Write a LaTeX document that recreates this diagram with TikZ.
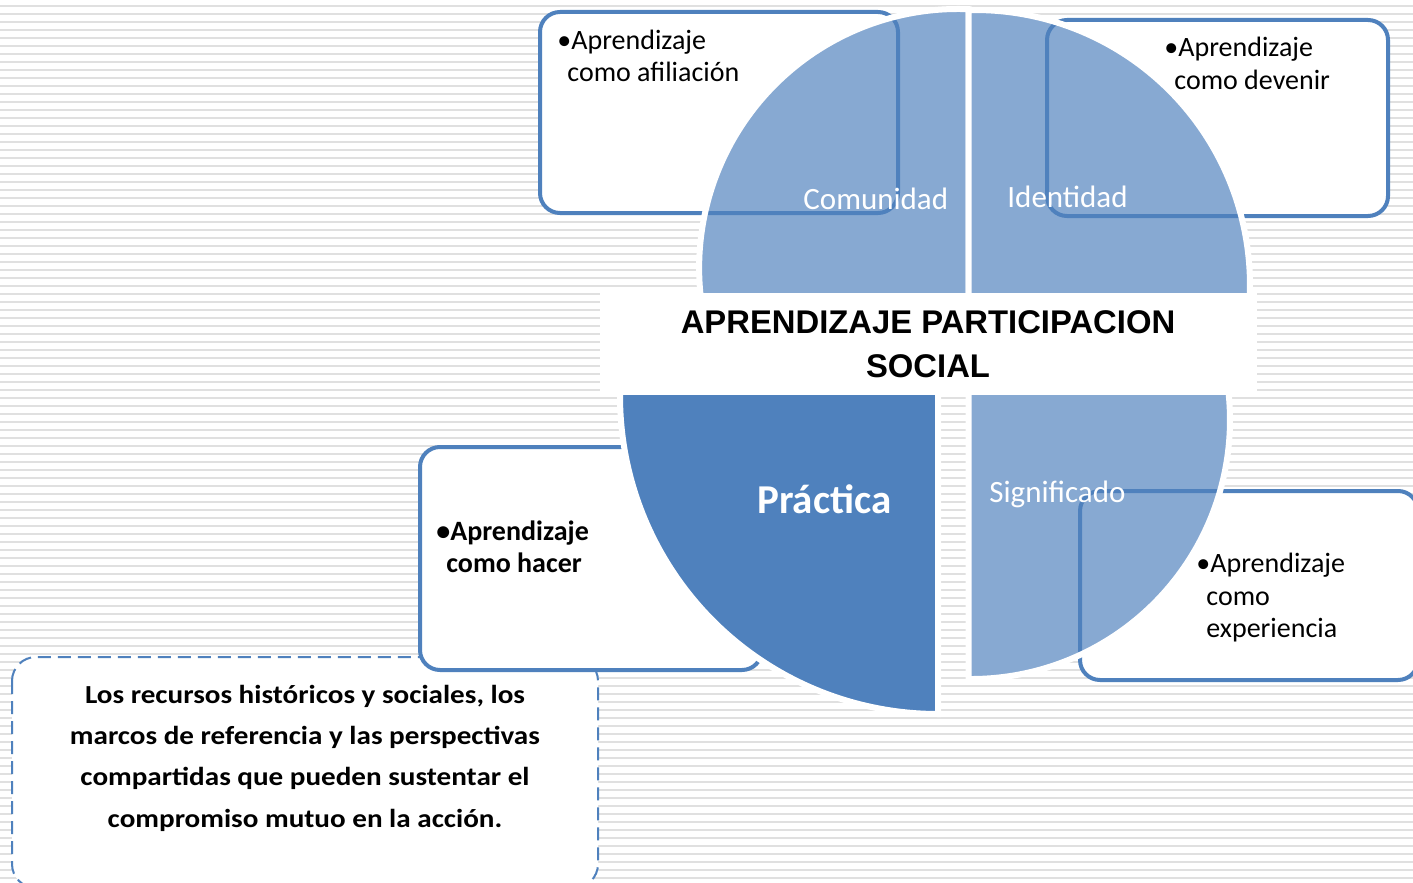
\documentclass[tikz,border=0pt]{standalone}
\usepackage{fontspec}
\setmainfont{Carlito}
\newfontfamily\titlefont{Liberation Sans}
\newfontfamily\notefont[FakeStretch=1.12]{Carlito}
\definecolor{cus-blue}{RGB}{79, 129, 189}
\definecolor{cus-stripe}{RGB}{224, 224, 224}
\tikzset{
	itembox/.style={draw=cus-blue, line width=2pt, fill=white, rounded corners=10pt},
	notebox/.style={draw=cus-blue, line width=1pt, fill=white, rounded corners=12pt, dash pattern=on 6.5pt off 3.5pt},
	wedge/.style={draw=white, line width=3pt, fill=cus-blue},
	lightwedge/.style={wedge, fill opacity=.68},
	item/.style={anchor=base west, inner sep=0pt, font=\fontsize{14}{16}\selectfont},
	itembold/.style={item, font=\fontsize{14}{16}\selectfont\bfseries},
	quadname/.style={anchor=base west, inner sep=0pt, text=white, font=\fontsize{15.5}{18}\selectfont},
	titletext/.style={anchor=base, inner sep=0pt, font=\titlefont\bfseries\fontsize{16.4}{19}\selectfont},
	notetext/.style={anchor=base, inner sep=0pt, font=\notefont\bfseries\fontsize{13}{15}\selectfont}
}
\begin{document}
\begin{tikzpicture}[x=0.5pt, y=-0.5pt]
\useasboundingbox (0 ,0) rectangle (1413 ,883);
\clip (0 ,0) rectangle (1413 ,883);
% striped background
\fill [white] (0 ,0) rectangle (1413 ,883);
\foreach \y in {6,14,...,878}{
	\draw [cus-stripe, line width=1pt] (0 ,\y) -- (1413 ,\y);
}
% dashed note box
\draw [notebox] (12 ,657) rectangle (598 ,888);
% white under the light quarters
\fill [white] (968.5 ,345) -- (968.5 ,9.2) arc[start angle=272.3, end angle=162.7, radius=259] -- cycle;
\fill [white] (968.5 ,345) -- (968.5 ,10.1) arc[start angle=268.65, end angle=372.6, radius=275] -- cycle;
\fill [white] (968.5 ,345) -- (968.5 ,679) arc[start angle=90.55, end angle=-16.8, radius=259] -- cycle;
% item boxes
\draw [itembox] (540 ,12) rectangle (898 ,213);
\draw [itembox] (1047 ,20) rectangle (1388 ,216);
\draw [itembox] (420 ,447) rectangle (762 ,670);
\draw [itembox] (1080 ,491) rectangle (1418 ,680);
% quarters
\draw [lightwedge] (968.5 ,345) -- (968.5 ,9.2) arc[start angle=272.3, end angle=162.7, radius=259] -- cycle;
\draw [lightwedge] (968.5 ,345) -- (968.5 ,10.1) arc[start angle=268.65, end angle=372.6, radius=275] -- cycle;
\draw [lightwedge] (968.5 ,345) -- (968.5 ,679) arc[start angle=90.55, end angle=-16.8, radius=259] -- cycle;
\draw [wedge] (938 ,345) -- (938 ,714) arc[start angle=90, end angle=189.3, radius=318] -- cycle;
% centre band
\fill [white] (600 ,293) rectangle (1257 ,395);

\node [item] (afil-a) at (557 ,50) {\textbullet Aprendizaje};
\node [item] (afil-b) at (567 ,82) {como afiliación};
\node [item] (dev-a) at (1164 ,57) {\textbullet Aprendizaje};
\node [item] (dev-b) at (1174 ,90) {como devenir};
\node [itembold] (hac-a) at (436 ,540) {\textbullet Aprendizaje};
\node [itembold] (hac-b) at (446 ,572) {como hacer};
\node [item] (exp-a) at (1196 ,572) {\textbullet Aprendizaje};
\node [item] (exp-b) at (1206 ,605) {como};
\node [item] (exp-c) at (1206 ,637) {experiencia};

\node [quadname] (comunidad) at (803 ,209) {Comunidad};
\node [quadname] (identidad) at (1007 ,207) {Identidad};
\node [quadname] (significado) at (989 ,502) {Significado};
\node [quadname, font=\fontsize{20.5}{24}\selectfont\bfseries] (practica) at (757 ,513) {Práctica};

\node [titletext] (title-a) at (928 ,333) {APRENDIZAJE PARTICIPACION};
\node [titletext] (title-b) at (928 ,377) {SOCIAL};

\node [notetext] (note-a) at (305 ,703) {Los recursos históricos y sociales, los};
\node [notetext] (note-b) at (305 ,744) {marcos de referencia y las perspectivas};
\node [notetext] (note-c) at (305 ,785) {compartidas que pueden sustentar el};
\node [notetext] (note-d) at (305 ,827) {compromiso mutuo en la acción.};
\end{tikzpicture}
\end{document}
